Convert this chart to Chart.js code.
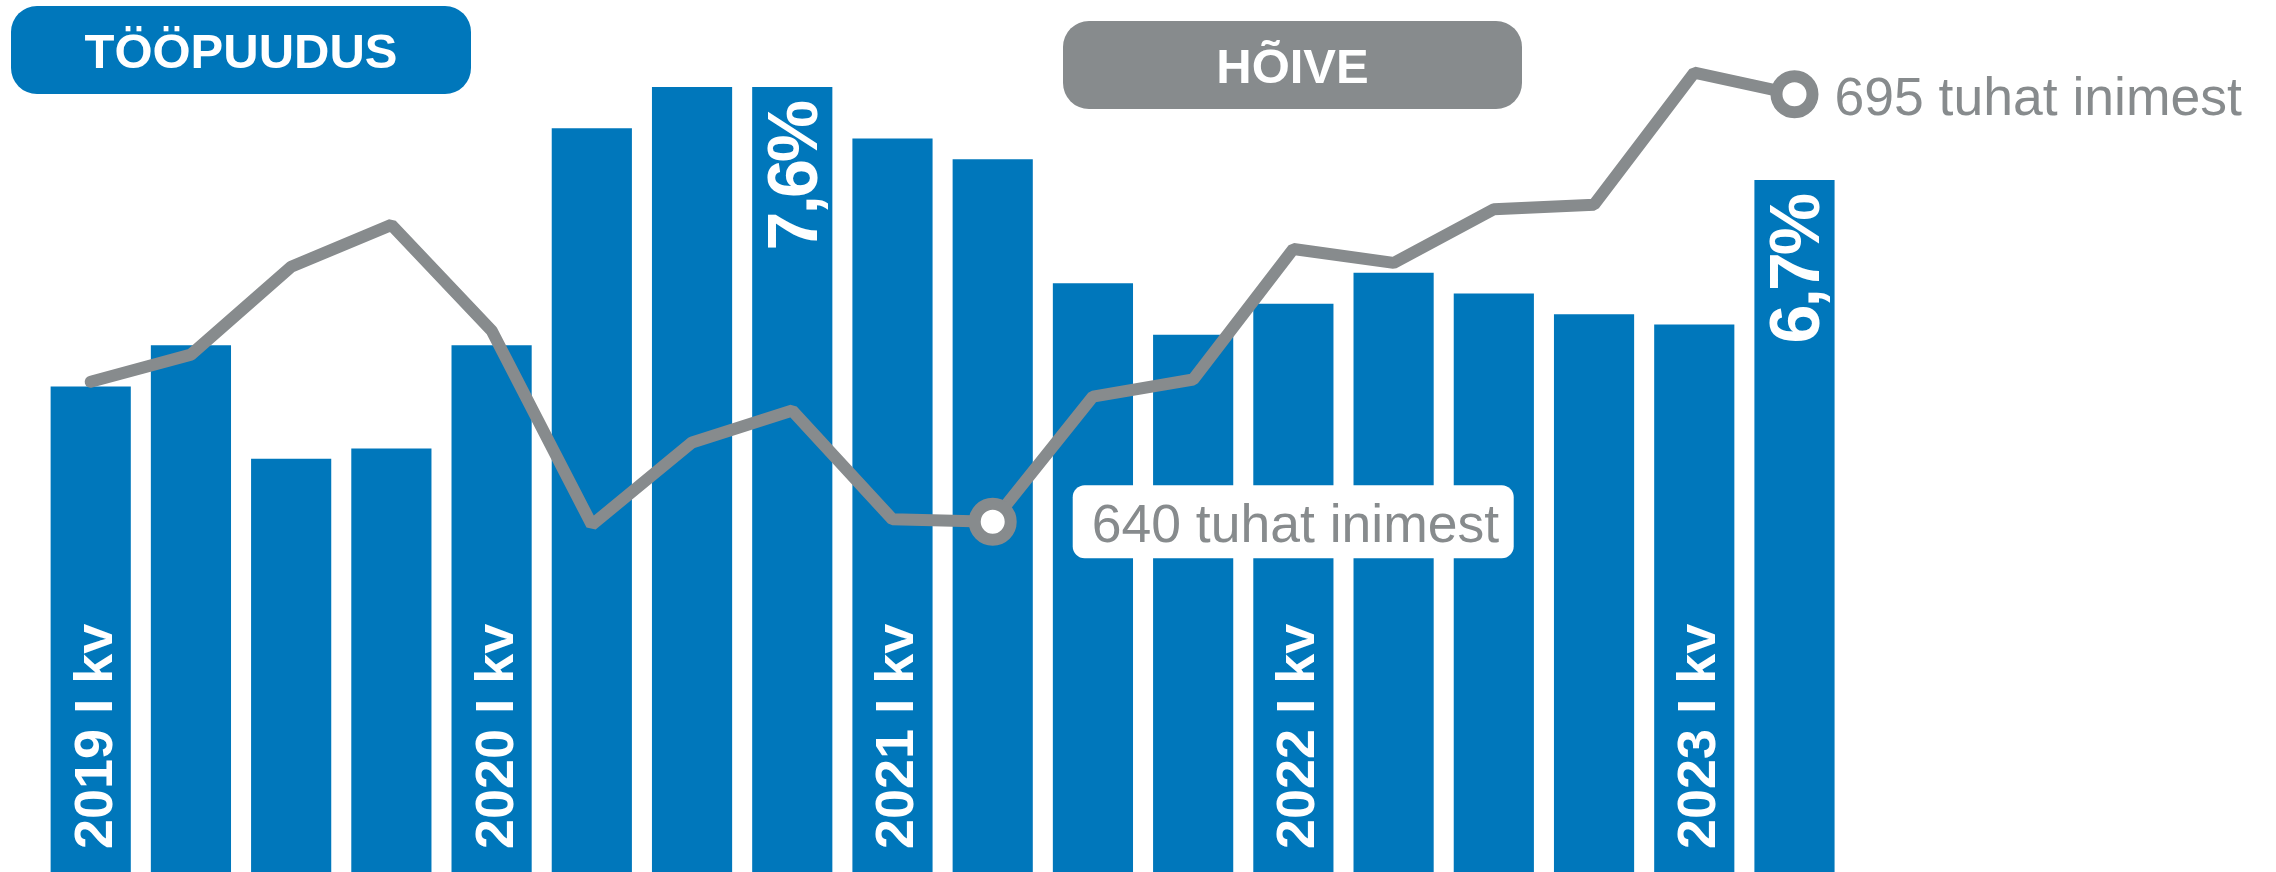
<!DOCTYPE html>
<html>
<head>
<meta charset="utf-8">
<script src="https://cdn.jsdelivr.net/npm/chart.js@4.4.1/dist/chart.umd.min.js"></script>
<style>
  html, body { margin: 0; padding: 0; background: #ffffff; }
  #wrap { width: 2276px; height: 872px; position: relative; }
  canvas { display: block; }
</style>
</head>
<body>
<div id="wrap"><canvas id="c" width="2276" height="872"></canvas></div>
<script>
// ---- data ----
const quarters = [
  '2019 I kv', '2019 II kv', '2019 III kv', '2019 IV kv',
  '2020 I kv', '2020 II kv', '2020 III kv', '2020 IV kv',
  '2021 I kv', '2021 II kv', '2021 III kv', '2021 IV kv',
  '2022 I kv', '2022 II kv', '2022 III kv', '2022 IV kv',
  '2023 I kv', '2023 II kv'
];
// Töötuse määr, %
const unemployment = [4.7, 5.1, 4.0, 4.1, 5.1, 7.2, 7.6, 7.6, 7.1, 6.9, 5.7, 5.2, 5.5, 5.8, 5.6, 5.4, 5.3, 6.7];
// Hõivatute arv, tuhat inimest
const employment = [658.0, 661.5, 672.8, 678.2, 664.6, 639.6, 650.2, 654.3, 640.3, 640.0, 656.1, 658.3, 675.1, 673.3, 680.2, 680.8, 697.8, 695.0];
// indexes of labelled values
const unemploymentCallouts = [7, 17];
const employmentCallouts = [9, 17];
const seriesTitles = ['TÖÖPUUDUS', 'HÕIVE'];
const employmentUnit = 'tuhat inimest';

// ---- styles ----
const BLUE = '#0077BB';
const GREY = '#878B8D';
const FONT = "'Liberation Sans', Arial, Helvetica, sans-serif";

function fmtPct(v) { return v.toFixed(1).replace('.', ',') + '%'; }

function roundRect(ctx, x, y, w, h, r) {
  ctx.beginPath();
  ctx.moveTo(x + r, y);
  ctx.lineTo(x + w - r, y);
  ctx.arcTo(x + w, y, x + w, y + r, r);
  ctx.lineTo(x + w, y + h - r);
  ctx.arcTo(x + w, y + h, x + w - r, y + h, r);
  ctx.lineTo(x + r, y + h);
  ctx.arcTo(x, y + h, x, y + h - r, r);
  ctx.lineTo(x, y + r);
  ctx.arcTo(x, y, x + r, y, r);
  ctx.closePath();
}

const decorPlugin = {
  id: 'decor',
  afterDatasetDraw(chart, args) {
    if (args.index !== 0) return;
    const ctx = chart.ctx;
    const meta = args.meta;
    const basePx = chart.scales.y.getPixelForValue(0);
    ctx.save();
    ctx.fillStyle = '#ffffff';
    // year labels on first-quarter bars
    ctx.font = 'bold 54px ' + FONT;
    ctx.textAlign = 'left';
    ctx.textBaseline = 'alphabetic';
    quarters.forEach((q, i) => {
      if (!/ I kv$/.test(q)) return;
      const bar = meta.data[i];
      ctx.save();
      ctx.translate(bar.x + 21, basePx - 23);
      ctx.rotate(-Math.PI / 2);
      ctx.fillText(q, 0, 0);
      ctx.restore();
    });
    // value labels
    ctx.font = 'bold 70px ' + FONT;
    ctx.textAlign = 'right';
    try { ctx.letterSpacing = '-3px'; } catch (e) {}
    unemploymentCallouts.forEach(i => {
      const bar = meta.data[i];
      ctx.save();
      ctx.translate(bar.x + 25, bar.y + 16);
      ctx.rotate(-Math.PI / 2);
      ctx.fillText(fmtPct(unemployment[i]), 0, 0);
      ctx.restore();
    });
    try { ctx.letterSpacing = '0px'; } catch (e) {}
    ctx.restore();
  },
  afterDatasetsDraw(chart) {
    const ctx = chart.ctx;
    const meta = chart.getDatasetMeta(1);
    ctx.save();
    ctx.font = '53.5px ' + FONT;
    ctx.textAlign = 'left';
    ctx.textBaseline = 'alphabetic';
    employmentCallouts.forEach((i, k) => {
      const p = meta.data[i];
      const text = Math.round(employment[i]) + ' ' + employmentUnit;
      if (k === 0) {
        ctx.fillStyle = '#ffffff';
        roundRect(ctx, p.x + 80, p.y - 36.5, 441, 73, 12);
        ctx.fill();
        ctx.fillStyle = GREY;
        ctx.fillText(text, p.x + 99, p.y + 20);
      } else {
        ctx.fillStyle = GREY;
        ctx.fillText(text, p.x + 40, p.y + 21);
      }
    });
    ctx.restore();
  },
  afterDraw(chart) {
    const ctx = chart.ctx;
    ctx.save();
    const boxes = [
      { x: 11, y: 6, w: 460, h: 88, color: BLUE },
      { x: 1063, y: 21, w: 459, h: 88, color: GREY }
    ];
    ctx.font = 'bold 49px ' + FONT;
    ctx.textAlign = 'center';
    ctx.textBaseline = 'alphabetic';
    boxes.forEach((b, i) => {
      ctx.fillStyle = b.color;
      roundRect(ctx, b.x, b.y, b.w, b.h, 26);
      ctx.fill();
      ctx.fillStyle = '#ffffff';
      ctx.fillText(seriesTitles[i], b.x + b.w / 2, b.y + b.h / 2 + 18);
    });
    ctx.restore();
  }
};

// chart area spans y = 30 .. 842 (the point overflow padding Chart.js enforces);
// scale ranges are chosen so value 0 % sits at the canvas bottom (872 px).
new Chart(document.getElementById('c'), {
  type: 'bar',
  data: {
    labels: quarters,
    datasets: [
      {
        type: 'bar',
        label: seriesTitles[0],
        data: unemployment,
        backgroundColor: BLUE,
        borderWidth: 0,
        base: 0,
        clip: false,
        categoryPercentage: 1.0,
        barPercentage: 0.8,
        yAxisID: 'y',
        order: 2
      },
      {
        type: 'line',
        label: seriesTitles[1],
        data: employment,
        borderColor: GREY,
        borderWidth: 12,
        borderCapStyle: 'round',
        borderJoinStyle: 'bevel',
        tension: 0,
        fill: false,
        clip: false,
        pointRadius: ctx => employmentCallouts.includes(ctx.dataIndex) ? 18 : 0,
        pointBorderWidth: 12,
        pointBackgroundColor: '#ffffff',
        pointBorderColor: GREY,
        pointHoverRadius: 0,
        yAxisID: 'y2',
        order: 1
      }
    ]
  },
  options: {
    responsive: false,
    animation: false,
    devicePixelRatio: 1,
    layout: { padding: { left: 40.6, right: 431.4, top: 30, bottom: 30 } },
    plugins: { legend: { display: false }, tooltip: { enabled: false } },
    scales: {
      x: { type: 'category', display: false, offset: true, grid: { display: false } },
      y: { display: false, min: 30 / 103.3, max: 842 / 103.3 },
      y2: { display: false, min: 640 - 320.3 / 7.771, max: 640 + 491.7 / 7.771, position: 'right' }
    }
  },
  plugins: [decorPlugin]
});
</script>
</body>
</html>
